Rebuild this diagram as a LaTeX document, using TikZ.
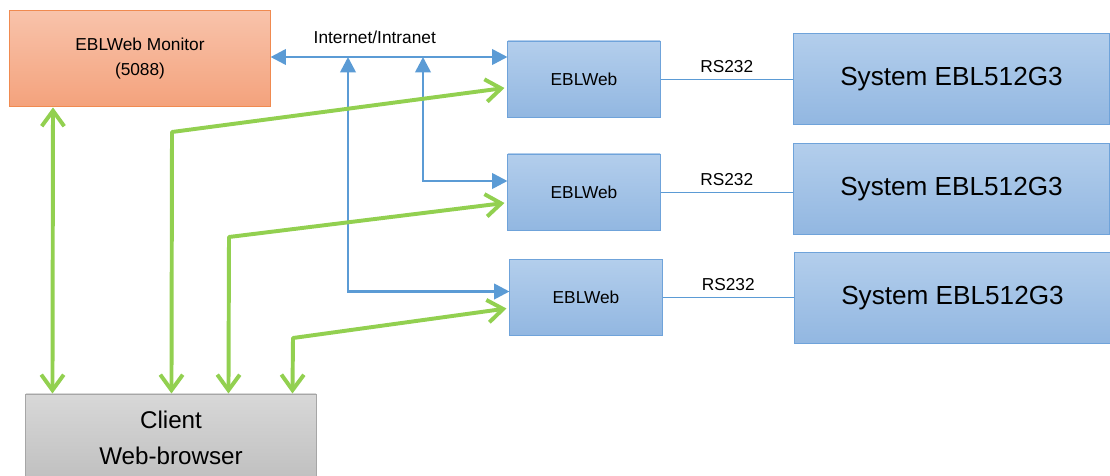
\documentclass[tikz,border=0pt]{standalone}
\usepackage{fontspec}
\setmainfont{Liberation Sans}
\usetikzlibrary{arrows.meta,calc}

\definecolor{netblue}{HTML}{5B9BD5}
\definecolor{webgreen}{HTML}{92D050}
\definecolor{boxtop}{HTML}{B3CEEC}
\definecolor{boxbot}{HTML}{92B7E1}
\definecolor{boxline}{HTML}{6FA3DA}
\definecolor{montop}{HTML}{F8C3AB}
\definecolor{monbot}{HTML}{F4A27C}
\definecolor{monline}{HTML}{F08A50}
\definecolor{clitop}{HTML}{D8D8D8}
\definecolor{clibot}{HTML}{BFBFBF}
\definecolor{cliline}{HTML}{A6A6A6}

\tikzset{
  unit/.style={draw=boxline, line width=0.7pt, top color=boxtop, bottom color=boxbot,
    minimum width=3.8cm, minimum height=1.9cm, font=\fontsize{12.3}{15}\selectfont},
  system/.style={unit, minimum width=7.9cm, minimum height=2.28cm,
    font=\fontsize{18.6}{22}\selectfont},
  net/.style={draw=netblue, line width=1.9pt, {Triangle[length=11pt,width=11pt]}-{Triangle[length=11pt,width=11pt]}},
  web/.style={draw=webgreen, line width=2.8pt, line join=round,
    {Straight Barb[length=11pt,width=16pt]}-{Straight Barb[length=11pt,width=16pt]}},
  serial/.style={draw=netblue, line width=0.6pt}
}

\begin{document}
\begin{tikzpicture}[x=0.025cm, y=-0.025cm]
  \useasboundingbox (0,0) rectangle (1110,475);

  \node [draw=monline, line width=0.7pt, top color=montop, bottom color=monbot,
    minimum width=6.5cm, minimum height=2.42cm, align=center,
    font=\fontsize{12.3}{18.4}\selectfont] (mon) at (140,58.5) {EBLWeb Monitor\\(5088)};
  \node [draw=cliline, line width=0.7pt, top color=clitop, bottom color=clibot,
    minimum width=7.25cm, minimum height=2.2cm, align=center,
    font=\fontsize{17.2}{25.5}\selectfont] (cli) at (171,438) {Client\\Web-browser};

  \node [unit] (web1) at (584,79) {EBLWeb};
  \node [unit] (web2) at (584,192) {EBLWeb};
  \node [unit] (web3) at (586,297.5) {EBLWeb};

  \node [system] (sys1) at (951.5,79) {System EBL512G3};
  \node [system] (sys2) at (951.5,189) {System EBL512G3};
  \node [system] (sys3) at (952.5,298) {System EBL512G3};

  \draw [serial] (web1) -- node [above=1pt, font=\fontsize{12.3}{15}\selectfont] {RS232} (web1 -| sys1.west);
  \draw [serial] (web2) -- node [above=1pt, font=\fontsize{12.3}{15}\selectfont] {RS232} (web2 -| sys2.west);
  \draw [serial] (web3) -- node [above=1pt, font=\fontsize{12.3}{15}\selectfont] {RS232} (web3 -| sys3.west);

  \coordinate (j1) at (348,57);
  \coordinate (j2) at (423,57);
  \draw [net] (mon.east |- j1) -- node [pos=0.44, above=5pt, font=\fontsize{12.3}{15}\selectfont] (lan) {Internet/Intranet} (web1.west |- j1);
  \draw [net] (j2) |- ($(web2.west)+(0,-11)$);
  \draw [net] (j1) |- ($(web3.west)+(0,-6)$);

  \draw [web] ($(cli.north west)+(27,0)$) -- (mon.south -| 53,0);
  \draw [web] ($(cli.north west)+(146,0)$) -- (172,132) -- ($(web1.west)+(-3,9)$);
  \draw [web] ($(cli.north west)+(203,0)$) -- (229,237) -- ($(web2.west)+(-3,11)$);
  \draw [web] ($(cli.north west)+(267,0)$) -- (293,338) -- ($(web3.west)+(-3,11)$);
\end{tikzpicture}
\end{document}
